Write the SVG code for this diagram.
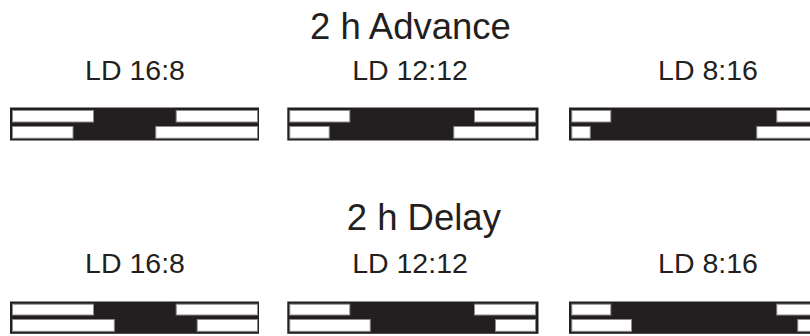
<svg xmlns="http://www.w3.org/2000/svg" width="810" height="336" viewBox="0 0 810 336">
  <style>
    .title { font-family: "Liberation Sans", Arial, sans-serif; font-size: 36.5px; fill: #231f20; }
    .label { font-family: "Liberation Sans", Arial, sans-serif; font-size: 28.5px; fill: #231f20; text-anchor: middle; }
    .dark { fill: #231f20; }
    .light { fill: #ffffff; stroke: #8c8c8c; stroke-width: 1; }
  </style>
  <rect width="810" height="336" fill="#ffffff"/>

  <!-- Advance schedules -->
  <g id="advance">
    <text class="title" x="310" y="38.5">2 h Advance</text>
    <g id="adv-ld16-8">
      <text class="label" x="135" y="80">LD 16:8</text>
      <rect class="dark" x="10" y="107.5" width="249" height="33"/>
      <rect class="light" x="12.5" y="110.5" width="81" height="11.5"/>
      <rect class="light" x="176.2" y="110.5" width="81.3" height="11.5"/>
      <rect class="light" x="12.5" y="126.5" width="60.5" height="11.7"/>
      <rect class="light" x="155.8" y="126.5" width="101.7" height="11.7"/>
    </g>
    <g id="adv-ld12-12">
      <text class="label" x="410" y="80">LD 12:12</text>
      <rect class="dark" x="287.3" y="107.5" width="251.2" height="33"/>
      <rect class="light" x="289.8" y="110.5" width="60" height="11.5"/>
      <rect class="light" x="474.5" y="110.5" width="61" height="11.5"/>
      <rect class="light" x="289.8" y="126.5" width="39.4" height="11.7"/>
      <rect class="light" x="453.8" y="126.5" width="81.7" height="11.7"/>
    </g>
    <g id="adv-ld8-16">
      <text class="label" x="708" y="80">LD 8:16</text>
      <rect class="dark" x="569" y="107.5" width="251" height="33"/>
      <rect class="light" x="571.8" y="110.5" width="39" height="11.5"/>
      <rect class="light" x="776.8" y="110.5" width="41" height="11.5"/>
      <rect class="light" x="571.8" y="126.5" width="18.4" height="11.7"/>
      <rect class="light" x="756.8" y="126.5" width="61" height="11.7"/>
    </g>
  </g>

  <!-- Delay schedules -->
  <g id="delay">
    <text class="title" x="346.7" y="230">2 h Delay</text>
    <g id="del-ld16-8">
      <text class="label" x="135" y="273">LD 16:8</text>
      <rect class="dark" x="10" y="301.5" width="249" height="32.3"/>
      <rect class="light" x="12.5" y="304.2" width="81" height="10.8"/>
      <rect class="light" x="176.2" y="304.2" width="81.3" height="10.8"/>
      <rect class="light" x="12.5" y="319.5" width="101.8" height="11.8"/>
      <rect class="light" x="197.2" y="319.5" width="60.3" height="11.8"/>
    </g>
    <g id="del-ld12-12">
      <text class="label" x="410" y="273">LD 12:12</text>
      <rect class="dark" x="287.3" y="301.5" width="251.2" height="32.3"/>
      <rect class="light" x="289.8" y="304.2" width="60" height="10.8"/>
      <rect class="light" x="474.5" y="304.2" width="61" height="10.8"/>
      <rect class="light" x="289.8" y="319.5" width="80.4" height="11.8"/>
      <rect class="light" x="495.5" y="319.5" width="40" height="11.8"/>
    </g>
    <g id="del-ld8-16">
      <text class="label" x="708" y="273">LD 8:16</text>
      <rect class="dark" x="569" y="301.5" width="251" height="32.3"/>
      <rect class="light" x="571.8" y="304.2" width="39" height="10.8"/>
      <rect class="light" x="776.8" y="304.2" width="41" height="10.8"/>
      <rect class="light" x="571.8" y="319.5" width="59.7" height="11.8"/>
      <rect class="light" x="797.8" y="319.5" width="20" height="11.8"/>
    </g>
  </g>
</svg>
